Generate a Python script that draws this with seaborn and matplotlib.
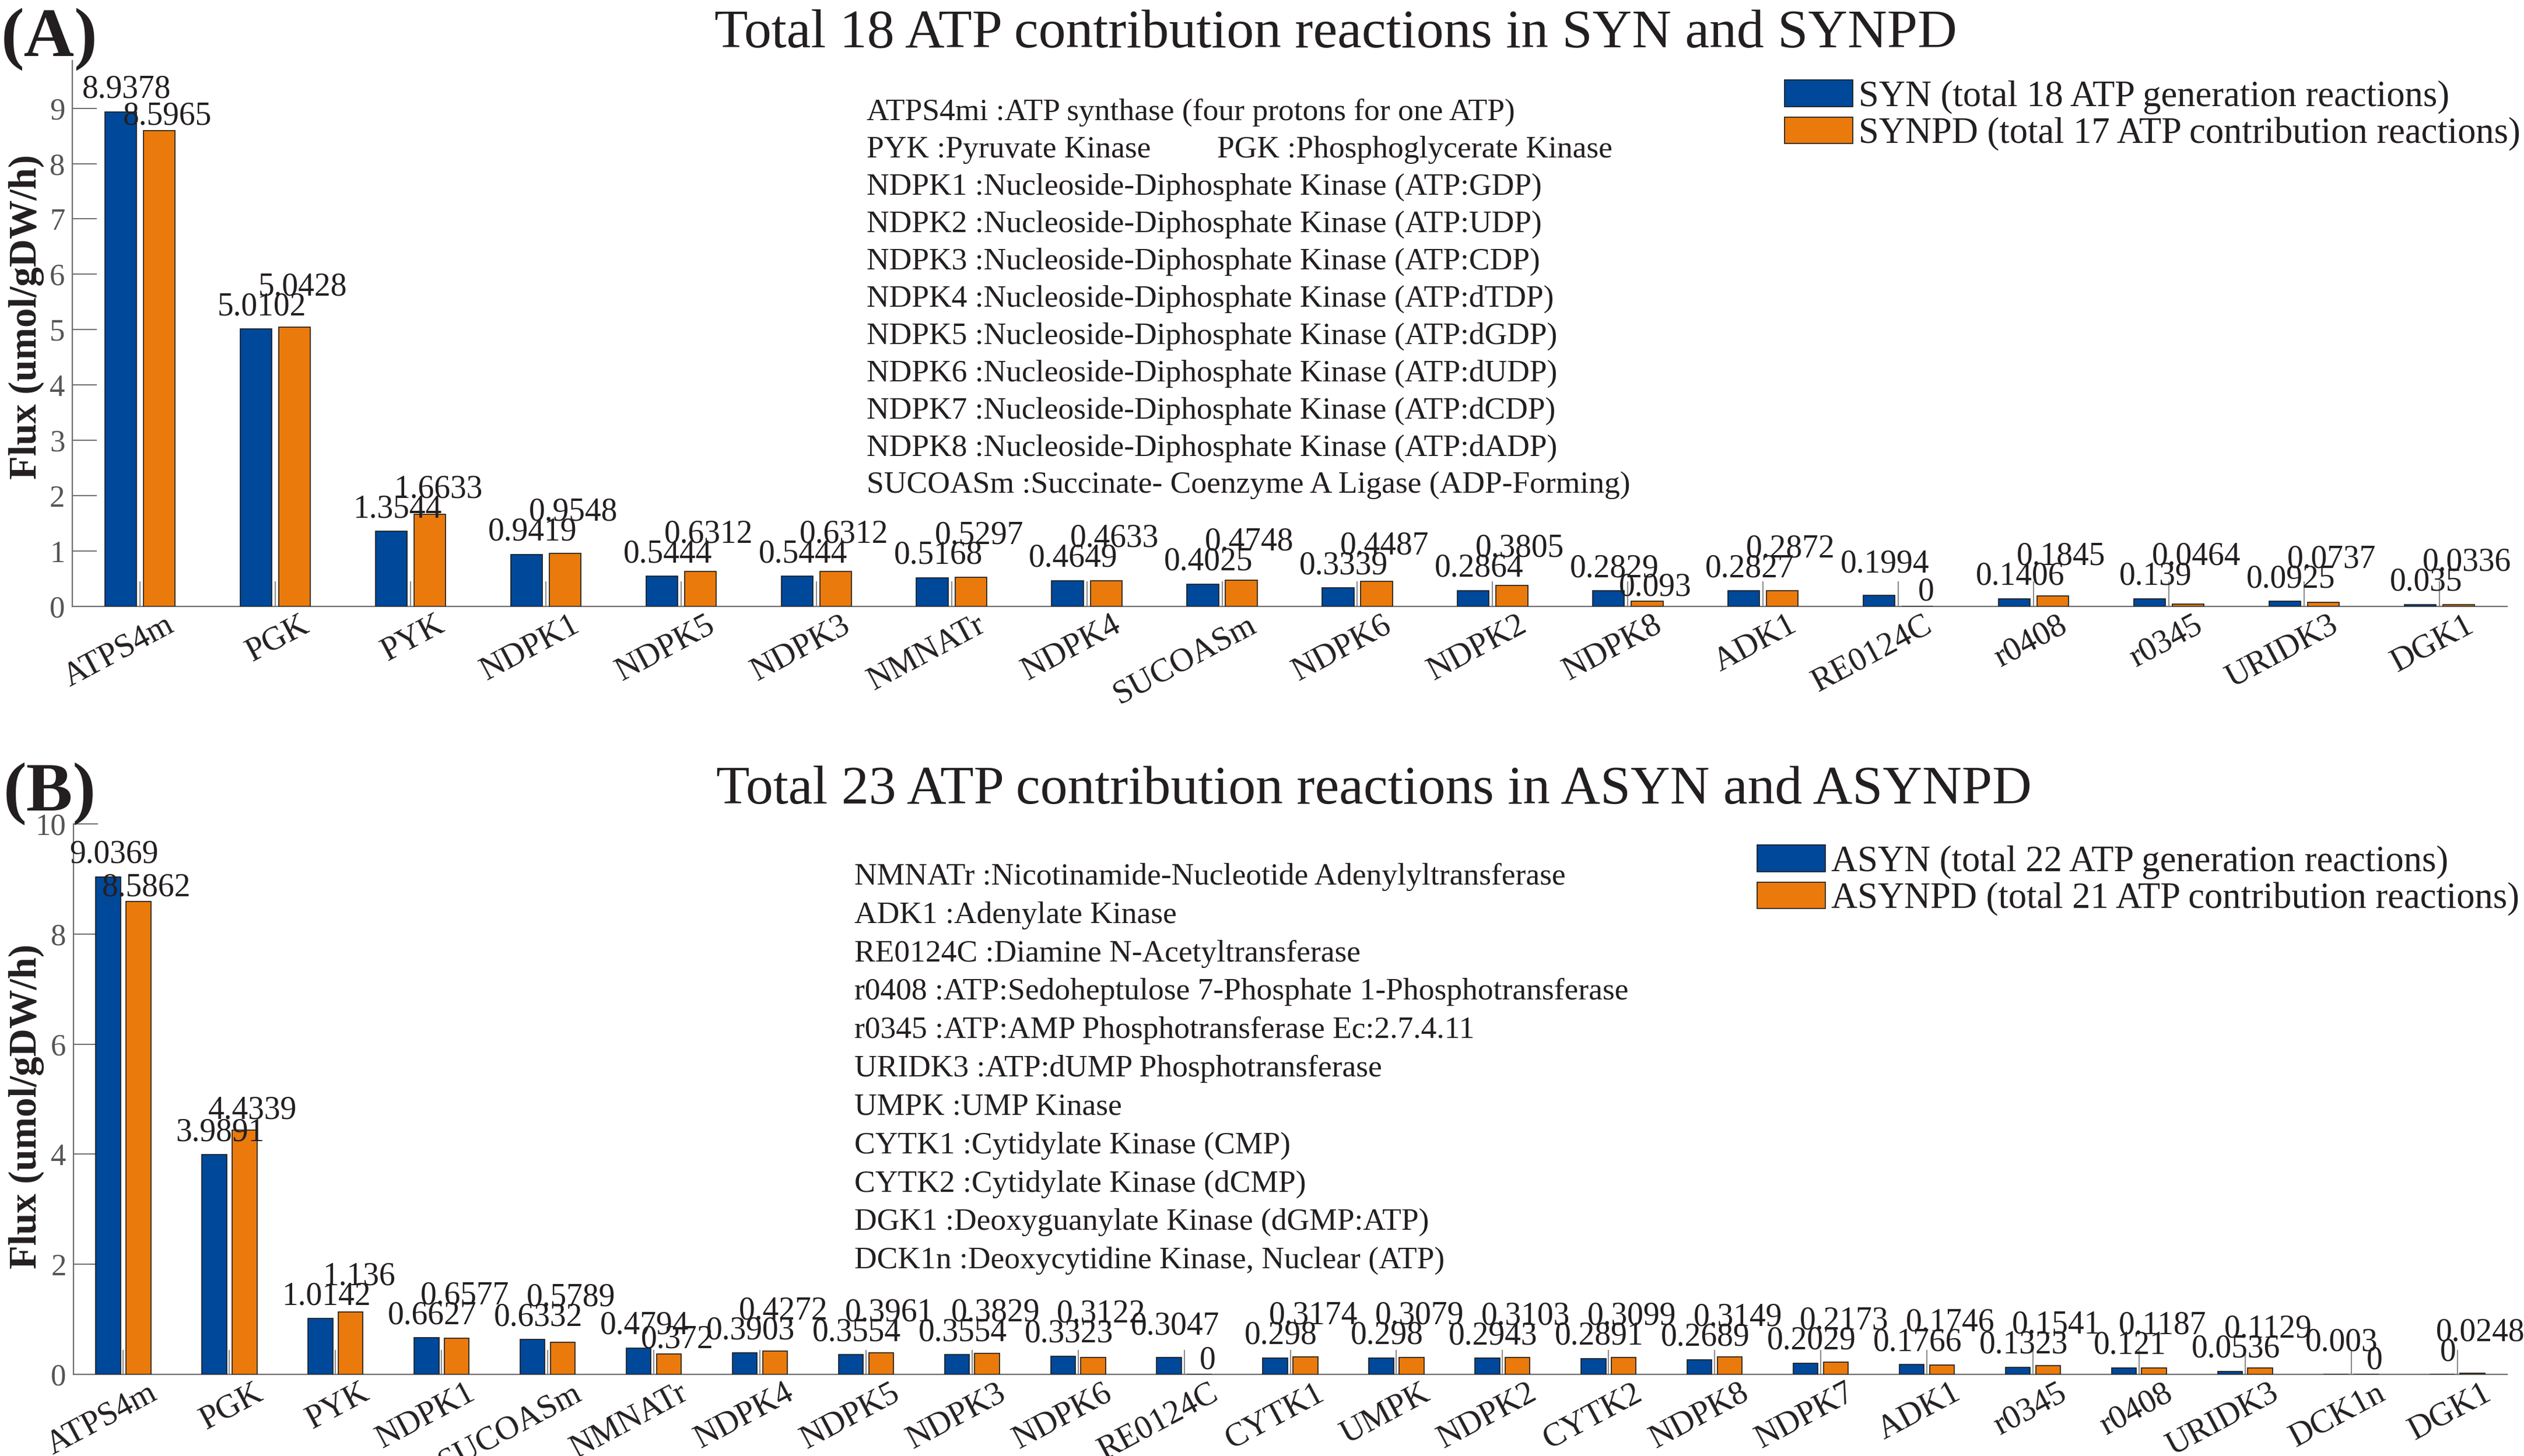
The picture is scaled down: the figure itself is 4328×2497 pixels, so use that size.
import matplotlib
matplotlib.use("Agg")
import matplotlib.pyplot as plt
import pandas as pd
import seaborn as sns
from matplotlib.transforms import ScaledTranslation

# ---------------- data ----------------
cats_A = ["ATPS4m", "PGK", "PYK", "NDPK1", "NDPK5", "NDPK3", "NMNATr", "NDPK4",
          "SUCOASm", "NDPK6", "NDPK2", "NDPK8", "ADK1", "RE0124C", "r0408",
          "r0345", "URIDK3", "DGK1"]
syn = [8.9378, 5.0102, 1.3544, 0.9419, 0.5444, 0.5444, 0.5168, 0.4649, 0.4025,
       0.3339, 0.2864, 0.2829, 0.2827, 0.1994, 0.1406, 0.139, 0.0925, 0.035]
synpd = [8.5965, 5.0428, 1.6633, 0.9548, 0.6312, 0.6312, 0.5297, 0.4633, 0.4748,
         0.4487, 0.3805, 0.093, 0.2872, 0.0, 0.1845, 0.0464, 0.0737, 0.0336]

cats_B = ["ATPS4m", "PGK", "PYK", "NDPK1", "SUCOASm", "NMNATr", "NDPK4", "NDPK5",
          "NDPK3", "NDPK6", "RE0124C", "CYTK1", "UMPK", "NDPK2", "CYTK2", "NDPK8",
          "NDPK7", "ADK1", "r0345", "r0408", "URIDK3", "DCK1n", "DGK1"]
asyn = [9.0369, 3.9891, 1.0142, 0.6627, 0.6332, 0.4794, 0.3903, 0.3554, 0.3554,
        0.3323, 0.3047, 0.298, 0.298, 0.2943, 0.2891, 0.2689, 0.2029, 0.1766,
        0.1323, 0.121, 0.0536, 0.003, 0.0]
asynpd = [8.5862, 4.4339, 1.136, 0.6577, 0.5789, 0.372, 0.4272, 0.3961, 0.3829,
          0.3122, 0.0, 0.3174, 0.3079, 0.3103, 0.3099, 0.3149, 0.2173, 0.1746,
          0.1541, 0.1187, 0.1129, 0.0, 0.0248]

# thin separator line in each group (height in flux units)
sep_height_A = 0.45
sep_height_B = 0.45

title_A = "Total 18 ATP contribution reactions in SYN and SYNPD"
title_B = "Total 23 ATP contribution reactions in ASYN and ASYNPD"
series_A = ["SYN (total 18 ATP generation reactions)",
            "SYNPD (total 17 ATP contribution reactions)"]
series_B = ["ASYN (total 22 ATP generation reactions)",
            "ASYNPD (total 21 ATP contribution reactions)"]
ylabel = "Flux (umol/gDW/h)"

notes_A = [
    ["ATPS4mi :ATP synthase (four protons for one ATP)"],
    ["PYK :Pyruvate Kinase", "PGK :Phosphoglycerate Kinase"],
    ["NDPK1 :Nucleoside-Diphosphate Kinase (ATP:GDP)"],
    ["NDPK2 :Nucleoside-Diphosphate Kinase (ATP:UDP)"],
    ["NDPK3 :Nucleoside-Diphosphate Kinase (ATP:CDP)"],
    ["NDPK4 :Nucleoside-Diphosphate Kinase (ATP:dTDP)"],
    ["NDPK5 :Nucleoside-Diphosphate Kinase (ATP:dGDP)"],
    ["NDPK6 :Nucleoside-Diphosphate Kinase (ATP:dUDP)"],
    ["NDPK7 :Nucleoside-Diphosphate Kinase (ATP:dCDP)"],
    ["NDPK8 :Nucleoside-Diphosphate Kinase (ATP:dADP)"],
    ["SUCOASm :Succinate- Coenzyme A Ligase (ADP-Forming)"],
]
notes_B = [
    ["NMNATr :Nicotinamide-Nucleotide Adenylyltransferase"],
    ["ADK1 :Adenylate Kinase"],
    ["RE0124C :Diamine N-Acetyltransferase"],
    ["r0408 :ATP:Sedoheptulose 7-Phosphate 1-Phosphotransferase"],
    ["r0345 :ATP:AMP Phosphotransferase Ec:2.7.4.11"],
    ["URIDK3 :ATP:dUMP Phosphotransferase"],
    ["UMPK :UMP Kinase"],
    ["CYTK1 :Cytidylate Kinase (CMP)"],
    ["CYTK2 :Cytidylate Kinase (dCMP)"],
    ["DGK1 :Deoxyguanylate Kinase (dGMP:ATP)"],
    ["DCK1n :Deoxycytidine Kinase, Nuclear (ATP)"],
]

# ---------------- style ----------------
W, H, DPI = 4328, 2497, 100
BLUE = "#00489A"
ORANGE = "#EB7A0C"
GRAY = "#6e6e6e"
TXT = "#231f20"

sns.set_theme(style="white")
plt.rcParams["font.family"] = ["Liberation Serif", "DejaVu Serif"]

fig = plt.figure(figsize=(W / DPI, H / DPI), dpi=DPI)
fig.patch.set_facecolor("white")


def fx(x):
    return x / W


def fy(y):
    return 1 - y / H


def fmt(v):
    s = "%.4f" % v
    return s.rstrip("0").rstrip(".")


def panel(left, right, top, bottom, cats, s1, s2, names, ymax, yticks,
          xpad, sep_h, tag, tag_xy, title, title_xy, leg_xy, notes,
          note_x, note_y0, note_dy, note_x2, ylab_y):
    ax = fig.add_axes([fx(left), fy(bottom), fx(right - left), (bottom - top) / H])
    n = len(cats)
    df = pd.DataFrame({
        "reaction": cats + cats,
        "flux": s1 + s2,
        "series": [names[0]] * n + [names[1]] * n,
    })
    sns.barplot(data=df, x="reaction", y="flux", hue="series", order=cats,
                hue_order=names, palette=[BLUE, ORANGE], saturation=1,
                width=0.57, gap=0.18, edgecolor="#1a1a1a", linewidth=1.2,
                errorbar=None, ax=ax, zorder=3)
    ax.set_xlim(-xpad, n - 1 + xpad)
    ax.set_ylim(0, ymax)
    ax.set_yticks(yticks)
    ax.set_yticklabels([str(t) for t in yticks])
    ax.set_xlabel("")
    ax.set_ylabel(ylabel, fontsize=48, fontweight="bold", color=TXT)
    ax.yaxis.set_label_coords(fx(76), fy(ylab_y), transform=fig.transFigure)
    for s in ["top", "right"]:
        ax.spines[s].set_visible(False)
    for s in ["left", "bottom"]:
        ax.spines[s].set_color(GRAY)
        ax.spines[s].set_linewidth(1.6)
    ax.tick_params(axis="y", direction="in", length=30, width=1.4, color=GRAY,
                   labelsize=38, labelcolor="#555555", pad=9, left=True)
    ax.tick_params(axis="x", length=0, pad=4, labelsize=41, labelcolor=TXT)
    ax.set_xticks(range(n))
    ax.set_xticklabels(cats, rotation=28, ha="right", va="top",
                       rotation_mode="anchor")
    off = ScaledTranslation(42 / DPI, 0, fig.dpi_scale_trans)
    for lbl in ax.get_xticklabels():
        lbl.set_transform(lbl.get_transform() + off)

    # thin separator lines at group centres
    ax.vlines(range(n), 0, sep_h, colors="#8c8c8c", linewidth=1.5, zorder=2)

    # value labels
    ppu = (bottom - top) / ymax  # pixels per flux unit
    c_blue, c_orange = ax.containers[0], ax.containers[1]
    for i in range(n):
        b1, b2 = c_blue[i], c_orange[i]
        v1, v2 = s1[i], s2[i]
        x1 = b1.get_x() + b1.get_width() / 2
        x2 = b2.get_x() + b2.get_width() / 2
        y1 = v1 + 24 / ppu
        if v2 == 0 and v1 > 0:
            y1 = max(y1, v1 + 40 / ppu)
        ax.annotate(fmt(v1), xy=(x1, y1), xytext=(10, 0), textcoords="offset pixels",
                    ha="center", va="baseline", fontsize=40, color=TXT, zorder=5,
                    annotation_clip=False)
        if v1 - v2 > 0.1 or (v2 == 0 and v1 > 0):
            y2 = v2 + 10 / ppu
        else:
            y2 = max(v2 + 20 / ppu, y1 + 34 / ppu)
        ax.annotate(fmt(v2), xy=(x2, y2), xytext=(14, 0), textcoords="offset pixels",
                    ha="center", va="baseline", fontsize=40, color=TXT, zorder=5,
                    annotation_clip=False)

    # legend
    sns.move_legend(ax, loc="upper left", bbox_to_anchor=(fx(leg_xy[0]), fy(leg_xy[1])),
                    bbox_transform=fig.transFigure, frameon=False, title=None,
                    fontsize=45, handlelength=1.87, handleheight=0.75,
                    handletextpad=0.16, labelspacing=0.08, borderpad=0,
                    borderaxespad=0)
    leg = ax.get_legend()
    for t in leg.get_texts():
        t.set_color(TXT)
    for h in leg.legend_handles:
        h.set_edgecolor("#1a1a1a")
        h.set_linewidth(1.2)

    # panel tag and title
    fig.text(fx(tag_xy[0]), fy(tag_xy[1]), tag, fontsize=86, fontweight="bold",
             color=TXT, ha="left", va="baseline")
    fig.text(fx(title_xy[0]), fy(title_xy[1]), title, fontsize=67.5, color=TXT,
             ha="center", va="baseline")

    # abbreviation notes
    for k, line in enumerate(notes):
        yb = note_y0 + k * note_dy
        fig.text(fx(note_x), fy(yb), line[0], fontsize=38.5, color=TXT,
                 ha="left", va="baseline")
        if len(line) > 1:
            fig.text(fx(note_x2), fy(yb), line[1], fontsize=38.5, color=TXT,
                     ha="left", va="baseline")
    return ax


panel(124, 4299, 104, 1040, cats_A, syn, synpd, series_A, 9.86, list(range(0, 10)),
      0.5, sep_height_A, "(A)", (2, 96), title_A, (2290, 80), (3060, 137), notes_A,
      1486, 206, 64, 2087, 544)
panel(126, 4299, 1413, 2357, cats_B, asyn, asynpd, series_B, 10, list(range(0, 11, 2)),
      0.47, sep_height_B, "(B)", (6, 1390), title_B, (2356, 1378), (3013, 1449), notes_B,
      1465, 1517, 65.8, 0, 1898)

fig.savefig("out.png", dpi=DPI, facecolor="white")
